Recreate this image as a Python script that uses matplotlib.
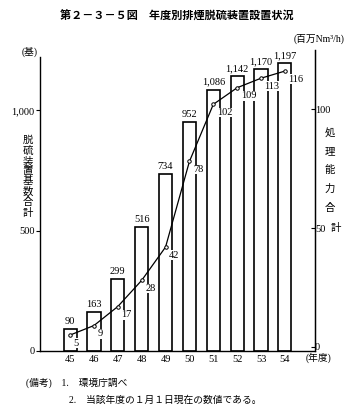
import matplotlib.pyplot as plt
import numpy as np

plt.rcParams['font.family'] = ['Liberation Serif', 'Noto Sans CJK JP']

# --- datos ---
anios = [45, 46, 47, 48, 49, 50, 51, 52, 53, 54]
bases = [90, 163, 299, 516, 734, 952, 1086, 1142, 1170, 1197]      # 基
capacidad = [5, 9, 17, 28, 42, 78, 102, 109, 113, 116]            # 百万Nm3/h
bases_txt = ['90', '163', '299', '516', '734', '952', '1,086', '1,142', '1,170', '1,197']

fig = plt.figure(figsize=(3.53, 4.11), dpi=100)
ax = fig.add_axes([0.1133, 0.146, 0.779, 0.732])

ax.bar(anios, bases, width=0.55, color='white', edgecolor='black', lw=1.2, zorder=2)
for x, y, s in zip(anios, bases, bases_txt):
    ax.text(x, y + 12, s, ha='center', va='bottom', fontsize=7.5)

ax.set_xlim(43.74, 55.26)
ax.set_ylim(0, 1250)
ax.set_xticks(anios)
ax.set_xticklabels([str(a) for a in anios], fontsize=7.5)
ax.set_yticks([0, 500, 1000])
ax.set_yticklabels(['0', '500', '1,000'], fontsize=7.5)
ax.tick_params(axis='x', length=0, pad=3)
ax.tick_params(axis='y', direction='out', length=3, width=0.8, pad=1)
ax.spines['top'].set_visible(False)
ax.spines['left'].set_bounds(0, 1220)
for sp in ['left', 'bottom', 'right']:
    ax.spines[sp].set_linewidth(1.0)

ax2 = ax.twinx()
ax2.set_ylim(-1.7, 124.8)
ax2.plot(anios, capacidad, color='black', lw=0.9, marker='o', ms=2.5,
         mfc='white', mec='black', mew=0.7, zorder=3)
for x, y in zip(anios, capacidad):
    ax2.text(x + 0.15, y - 1.5, str(y), ha='left', va='top', fontsize=7.5,
             bbox=dict(facecolor='white', edgecolor='none', pad=0.3))
ax2.set_yticks([0, 50, 100])
ax2.set_yticklabels(['0', '50', '100'], fontsize=7.5)
ax2.tick_params(axis='y', direction='in', length=3, width=0.8, pad=0)
ax2.spines['top'].set_visible(False)
ax2.spines['left'].set_visible(False)
ax2.spines['bottom'].set_visible(False)
ax2.spines['right'].set_bounds(0, 124.8)

# etiquetas de ejes
fig.text(0.085, 0.873, '(基)', fontsize=7, ha='center', va='center')
fig.text(0.975, 0.905, '(百万Nm³/h)', fontsize=7, ha='right', va='center')
fig.text(0.078, 0.57, '\n'.join('脱硫装置基数合計'), fontsize=7.5,
         ha='center', va='center', linespacing=1.05)
fig.text(0.935, 0.585, '\n\n'.join('処理能力合'), fontsize=7.5,
         ha='center', va='center', linespacing=0.98)
fig.text(0.95, 0.445, '計', fontsize=7.5, ha='center', va='center')
fig.text(0.865, 0.129, '(年度)', fontsize=7, ha='left', va='center')

fig.text(0.5, 0.962, '第２－３－５図　年度別排煙脱硫装置設置状況',
         fontsize=8, ha='center', va='center', fontweight='bold')
fig.text(0.075, 0.068, '(備考)　1.　環境庁調べ', fontsize=7, ha='left', va='center')
fig.text(0.195, 0.027, '2.　当該年度の１月１日現在の数値である。',
         fontsize=7, ha='left', va='center')

plt.savefig('out.png', dpi=100)
